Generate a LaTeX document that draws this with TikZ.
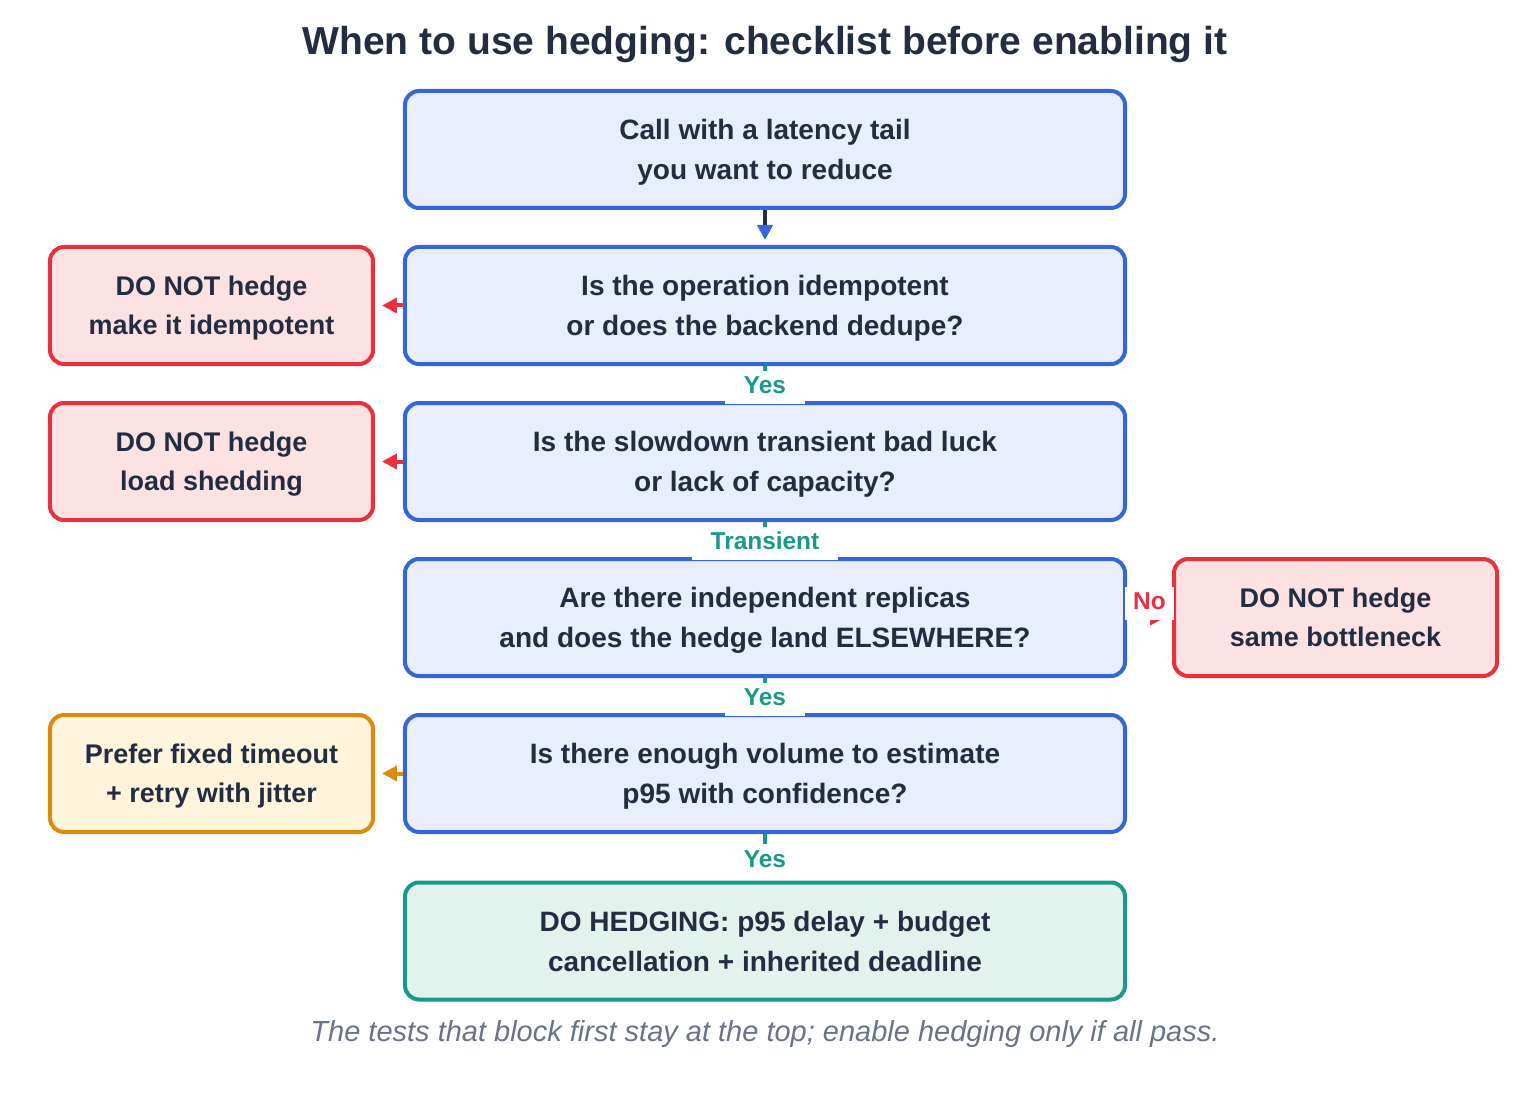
\documentclass[tikz,border=0pt]{standalone}
\usepackage{fontspec}
\setmainfont{Liberation Sans}
\usetikzlibrary{positioning, arrows.meta}
\definecolor{ink}{HTML}{232D42}
\definecolor{askline}{HTML}{3466DA}
\definecolor{askfill}{HTML}{E8EEFB}
\definecolor{noline}{HTML}{E8303E}
\definecolor{nofill}{HTML}{FDE2E3}
\definecolor{waitline}{HTML}{DE8A0C}
\definecolor{waitfill}{HTML}{FFF4DC}
\definecolor{goline}{HTML}{18998A}
\definecolor{gofill}{HTML}{E2F3EE}
\definecolor{notegray}{HTML}{687389}

\begin{document}
\begin{tikzpicture}[->, >={Triangle[length=0.3cm, width=0.3cm]}, node distance=3.12cm, on grid,
    line width=0.08cm,
    box/.style={draw, rounded corners=0.28cm, minimum height=2.34cm, align=center, text=ink,
      text depth=0pt, font=\fontsize{15.95}{22.8}\selectfont\bfseries},
    ask/.style={box, draw=askline, fill=askfill, minimum width=14.4cm},
    nobox/.style={box, draw=noline, fill=nofill, minimum width=6.46cm,
      font=\fontsize{15.35}{22.4}\selectfont\bfseries},
    waitbox/.style={nobox, draw=waitline, fill=waitfill},
    gobox/.style={box, draw=goline, fill=gofill, minimum width=14.4cm},
    lbl/.style={fill=white, text=goline, inner xsep=0.38cm, inner ysep=0.1cm, yshift=-0.07cm,
      text height=0.36cm, text depth=0.1cm, font=\fontsize{13.9}{16}\selectfont\bfseries}]
  \useasboundingbox (-15.3,2.99) rectangle (15.32,-19.41);
  \node[ask] (call) {Call with a latency tail\\you want to reduce};
  \node[ask, below=of call] (idem) {Is the operation idempotent\\or does the backend dedupe?};
  \node[ask, below=of idem] (slow) {Is the slowdown transient bad luck\\or lack of capacity?};
  \node[ask, below=of slow] (repl) {Are there independent replicas\\and does the hedge land ELSEWHERE?};
  \node[ask, below=of repl] (vol) {Is there enough volume to estimate\\p95 with confidence?};
  \node[gobox, below=3.35cm of vol] (done) {DO HEDGING: p95 delay + budget\\cancellation + inherited deadline};
  \node[nobox, left=11.07cm of idem] (idemno) {DO NOT hedge\\make it idempotent};
  \node[nobox, left=11.07cm of slow] (slowno) {DO NOT hedge\\load shedding};
  \node[nobox, right=11.41cm of repl] (replno) {DO NOT hedge\\same bottleneck};
  \node[waitbox, left=11.07cm of vol] (volwait) {Prefer fixed timeout\\+ retry with jitter};
  \node[text=ink, font=\fontsize{22.2}{26}\selectfont\bfseries, above=1.89cm of call, anchor=base] (title)
    {When to use hedging: checklist before enabling it};
  \node[text=notegray, font=\fontsize{16.5}{19}\selectfont\itshape, below=2cm of done, anchor=base] (foot)
    {The tests that block first stay at the top; enable hedging only if all pass.};
  \path (call) edge[draw=ink, -{Triangle[length=0.3cm, width=0.3cm, color=askline]}, shorten >=0.1cm] (idem)
        (idem) edge[draw=noline, shorten >=0.14cm] (idemno)
        (idem) edge[draw=goline, shorten >=0.1cm] node[lbl] {Yes} (slow)
        (slow) edge[draw=noline, shorten >=0.14cm] (slowno)
        (slow) edge[draw=goline, shorten >=0.1cm] node[lbl] {Transient} (repl)
        (repl) edge[draw=noline, shorten >=0.14cm] node[lbl, text=noline, inner xsep=0.16cm, yshift=0.36cm] {No} (replno)
        (repl) edge[draw=goline, shorten >=0.1cm] node[lbl] {Yes} (vol)
        (vol) edge[draw=waitline, shorten >=0.14cm] (volwait)
        (vol) edge[draw=goline, shorten >=0.1cm] node[lbl] {Yes} (done);
\end{tikzpicture}
\end{document}
